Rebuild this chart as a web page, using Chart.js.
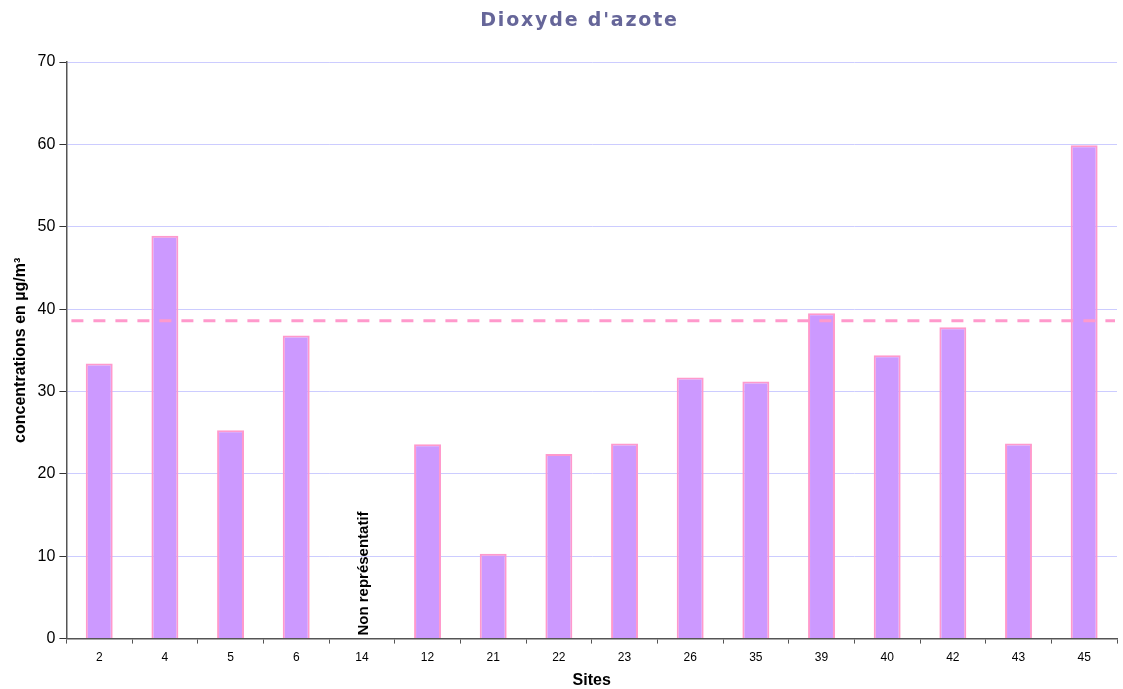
<!DOCTYPE html>
<html>
<head>
<meta charset="utf-8">
<script src="https://cdn.jsdelivr.net/npm/chart.js@4/dist/chart.umd.min.js"></script>
<style>
  html, body { margin: 0; padding: 0; background: #fff; }
  #graf { display: block; }
</style>
</head>
<body>
<canvas id="graf" width="1123" height="689"></canvas>
<script>
// sites de mesure et concentrations moyennes de NO2
const sites = ['2', '4', '5', '6', '14', '12', '21', '22', '23', '26', '35', '39', '40', '42', '43', '45'];
const concentrations = [33.4, 48.9, 25.3, 36.8, null, 23.6, 10.3, 22.4, 23.7, 31.7, 31.2, 39.5, 34.4, 37.8, 23.7, 59.9];
const seuil = 38.6;
const siteNonRepresentatif = '14';
const texteNonRepresentatif = 'Non représentatif';
const titre = "Dioxyde d'azote";

// titre, ligne pointillée du seuil + mention du site non représentatif
const extras = {
  id: 'extras',
  afterDatasetsDraw(chart) {
    const { ctx, chartArea, scales } = chart;

    ctx.save();
    ctx.font = 'bold 19px "DejaVu Sans", sans-serif';
    ctx.letterSpacing = '1.8px';
    ctx.fillStyle = '#666699';
    ctx.textAlign = 'center';
    ctx.textBaseline = 'middle';
    ctx.fillText(titre, chart.width / 2 + 18, 21);
    ctx.restore();

    const y = scales.y.getPixelForValue(seuil);
    ctx.save();
    ctx.strokeStyle = '#ff99cc';
    ctx.lineWidth = 3;
    ctx.setLineDash([12, 10]);
    ctx.beginPath();
    ctx.moveTo(chartArea.left + 5, y);
    ctx.lineTo(chartArea.right - 2, y);
    ctx.stroke();
    ctx.restore();

    const x = scales.x.getPixelForValue(sites.indexOf(siteNonRepresentatif));
    ctx.save();
    ctx.translate(x + 2, chartArea.bottom - 3);
    ctx.rotate(-Math.PI / 2);
    ctx.font = 'bold 15px "Liberation Sans", Arial, sans-serif';
    ctx.fillStyle = '#000';
    ctx.textAlign = 'left';
    ctx.textBaseline = 'middle';
    ctx.fillText(texteNonRepresentatif, 0, 0);
    ctx.restore();
  }
};

new Chart(document.getElementById('graf'), {
  type: 'bar',
  data: {
    labels: sites,
    datasets: [{
      data: concentrations,
      backgroundColor: '#cc99ff',
      borderColor: '#ff99cc',
      borderWidth: 2,
      barPercentage: 0.41,
      categoryPercentage: 1
    }]
  },
  options: {
    responsive: false,
    animation: false,
    devicePixelRatio: 1,
    layout: { padding: { left: 12, right: 6, top: 62, bottom: 0 } },
    plugins: {
      legend: { display: false },
      tooltip: { enabled: false },
      title: { display: false }
    },
    scales: {
      x: {
        grid: {
          offset: true,
          drawOnChartArea: false,
          drawTicks: true,
          tickLength: 5,
          color: '#555'
        },
        border: { color: '#555', width: 1.5 },
        ticks: {
          color: '#000',
          font: { family: '"Liberation Sans", Arial, sans-serif', size: 12 },
          maxRotation: 0,
          padding: 7
        },
        title: {
          display: true,
          text: 'Sites',
          color: '#000',
          font: { family: '"Liberation Sans", Arial, sans-serif', size: 16, weight: 'bold', lineHeight: 1 },
          padding: { top: 1, bottom: 0 }
        }
      },
      y: {
        min: 0,
        max: 70,
        ticks: {
          stepSize: 10,
          color: '#000',
          font: { family: '"Liberation Sans", Arial, sans-serif', size: 16 },
          padding: 4
        },
        grid: {
          color: '#ccccff',
          tickColor: '#333',
          tickLength: 7,
          lineWidth: 1
        },
        border: { color: '#555', width: 1.5 },
        title: {
          display: true,
          text: 'concentrations en µg/m³',
          color: '#000',
          font: { family: '"Liberation Sans", Arial, sans-serif', size: 16, weight: 'bold', lineHeight: 1.1 },
          padding: { top: 0, bottom: 4 }
        }
      }
    }
  },
  plugins: [extras]
});
</script>
</body>
</html>
